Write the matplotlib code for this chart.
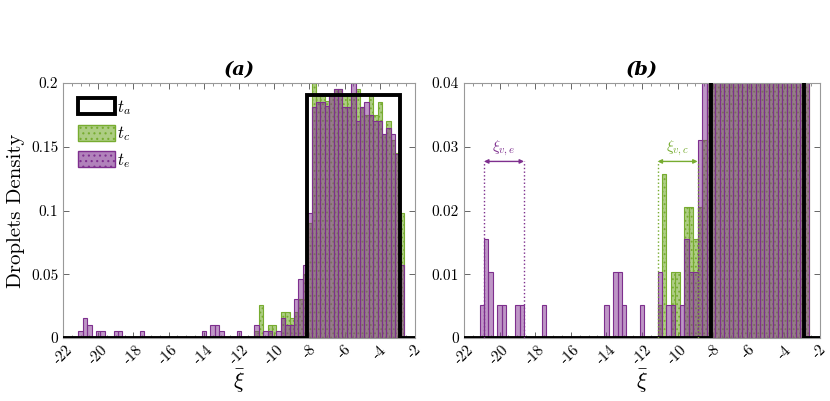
import numpy as np
import matplotlib
matplotlib.use("Agg")
import matplotlib.pyplot as plt
from matplotlib.patches import Patch
from matplotlib.colors import to_rgba

plt.rcParams['font.family'] = 'serif'
plt.rcParams['font.serif'] = ['cmr10', 'DejaVu Serif']
plt.rcParams['mathtext.fontset'] = 'cm'
plt.rcParams['axes.unicode_minus'] = False
plt.rcParams['hatch.linewidth'] = 0.8

# histogram bins (density per bin of width 0.25)
bin_start = -21.125
bin_width = 0.25

# t_e (purple)
te_density = [0.0052, 0.0155, 0.0103, 0, 0.0052, 0.0052, 0, 0, 0.0052, 0.0052,
              0, 0, 0, 0, 0.0052, 0, 0, 0, 0, 0,
              0, 0, 0, 0, 0, 0, 0, 0, 0.0052, 0,
              0.0103, 0.0103, 0.0052, 0, 0, 0, 0.0052, 0, 0, 0,
              0.0103, 0, 0.0052, 0.0052, 0, 0.0052, 0.0155, 0.0103, 0.0103, 0.031,
              0.046, 0.057, 0.098, 0.181, 0.185, 0.185, 0.182, 0.190, 0.195, 0.195,
              0.181, 0.181, 0.200, 0.170, 0.181, 0.185, 0.175, 0.170, 0.170, 0.160,
              0.165, 0.160, 0.1445, 0.057]

# t_c (green)
tc_density = [0, 0, 0, 0, 0, 0, 0, 0, 0, 0,
              0, 0, 0, 0, 0, 0, 0, 0, 0, 0,
              0, 0, 0, 0, 0, 0, 0, 0, 0, 0,
              0, 0, 0, 0, 0, 0, 0, 0, 0, 0,
              0.0052, 0.0258, 0, 0.0103, 0.0103, 0, 0.0206, 0.0206, 0.0155, 0.0206,
              0.031, 0.050, 0.090, 0.200, 0.190, 0.190, 0.186, 0.190, 0.195, 0.195,
              0.190, 0.190, 0.190, 0.195, 0.181, 0.175, 0.190, 0.175, 0.185, 0.160,
              0.170, 0.155, 0.145, 0.098]

# t_a (uniform, black outline)
ta_edges = [-22, -8.125, -2.875, -2]
ta_density = [0, 0.1905, 0]

# xi_v spans
xi_e_span = [-20.875, -18.625]
xi_c_span = [-11.125, -8.875]
xi_arrow_y = 0.0277

xticks = [-22, -20, -18, -16, -14, -12, -10, -8, -6, -4, -2]
xtick_labels = ['-22', '-20', '-18', '-16', '-14', '-12', '-10', '-8', '-6', '-4', '-2']

green = (0.466, 0.674, 0.188)
purple = (0.494, 0.184, 0.556)

lefts = bin_start + bin_width * np.arange(len(te_density))

fig = plt.figure(figsize=(8.3, 4.01), dpi=100)
ax1 = fig.add_axes([0.0759, 0.157, 0.424, 0.636])
ax2 = fig.add_axes([0.559, 0.157, 0.429, 0.636])


def draw(ax):
    ax.bar(lefts, tc_density, width=bin_width, align='edge',
           facecolor=to_rgba(green, 0.6), edgecolor=green, lw=0.8,
           hatch='....', zorder=2)
    ax.bar(lefts, te_density, width=bin_width, align='edge',
           facecolor=to_rgba(purple, 0.5), edgecolor=purple, lw=0.8, zorder=2)
    ax.stairs(ta_density, ta_edges, color='k', lw=2.8, baseline=None, zorder=4)
    ax.set_xlim(-22, -2)
    ax.set_xticks(xticks)
    ax.set_xticklabels(xtick_labels, rotation=45, ha='center', fontsize=11)
    ax.set_xticks(np.arange(-22, -1.9, 0.5), minor=True)
    ax.tick_params(which='both', direction='in', top=True, right=True,
                   color='0.4', labelsize=11)
    ax.tick_params(which='major', length=4, width=0.7)
    ax.tick_params(which='minor', length=2, width=0.5)
    for s in ax.spines.values():
        s.set_color('0.6')
        s.set_linewidth(0.8)
    ax.set_xlabel(r'$\bar{\xi}$', fontsize=16, labelpad=0)


draw(ax1)
ax1.set_ylim(0, 0.2)
ax1.set_yticks([0, 0.05, 0.1, 0.15, 0.2])
ax1.set_yticklabels(['0', '0.05', '0.1', '0.15', '0.2'])
ax1.set_ylabel('Droplets Density', fontsize=15, labelpad=4)
ax1.set_title('(a)', fontsize=14, fontweight='bold', fontstyle='italic',
              family='DejaVu Serif', pad=6)

handles = [Patch(facecolor='none', edgecolor='k', lw=2.8),
           Patch(facecolor=to_rgba(green, 0.6), edgecolor=green, hatch='...'),
           Patch(facecolor=to_rgba(purple, 0.6), edgecolor=purple, hatch='...')]
ax1.legend(handles, [r'$t_a$', r'$t_c$', r'$t_e$'], loc='upper left',
           frameon=False, fontsize=12, handlelength=2.2, handleheight=1.1,
           handletextpad=0.15, labelspacing=0.45, borderaxespad=0.5)

draw(ax2)
ax2.set_ylim(0, 0.04)
ax2.set_yticks([0, 0.01, 0.02, 0.03, 0.04])
ax2.set_yticklabels(['0', '0.01', '0.02', '0.03', '0.04'])
ax2.set_title('(b)', fontsize=14, fontweight='bold', fontstyle='italic',
              family='DejaVu Serif', pad=6)

for span, col, lab in [(xi_e_span, purple, r'$\xi_{v,e}$'),
                       (xi_c_span, green, r'$\xi_{v,c}$')]:
    for x in span:
        ax2.plot([x, x], [0, xi_arrow_y], ls=':', color=col, lw=1.0, zorder=5)
    ax2.annotate('', xy=(span[0], xi_arrow_y), xytext=(span[1], xi_arrow_y),
                 arrowprops=dict(arrowstyle='<|-|>', color=col, lw=1.0,
                                 mutation_scale=6, shrinkA=0, shrinkB=0),
                 zorder=5)
    ax2.text(np.mean(span), xi_arrow_y + 0.0006, lab, color=col, fontsize=11,
             ha='center', va='bottom')

fig.savefig('out.png', dpi=100)
